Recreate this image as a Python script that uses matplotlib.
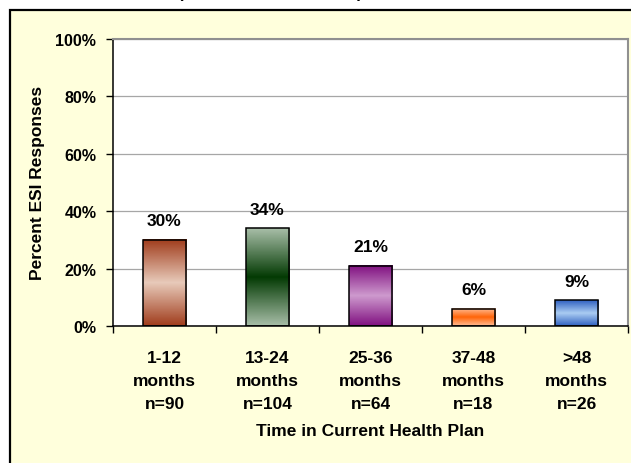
import numpy as np
import matplotlib.pyplot as plt
from matplotlib.colors import LinearSegmentedColormap
from matplotlib.patches import Rectangle

plt.rcParams['font.family'] = ['Liberation Sans', 'DejaVu Sans']
plt.rcParams['font.weight'] = 'bold'
plt.rcParams['axes.labelweight'] = 'bold'

# data
periods = ['1-12\nmonths', '13-24\nmonths', '25-36\nmonths', '37-48\nmonths', '>48\nmonths']
counts = [90, 104, 64, 18, 26]
percents = [30, 34, 21, 6, 9]

# (edge colour, middle colour) for each bar's vertical gradient
shades = [('#A03C1C', '#E8CABA'),
          ('#A8BEA8', '#033A03'),
          ('#801080', '#CE9ACE'),
          ('#FFBE98', '#FF6408'),
          ('#2F60C0', '#AACCF2')]

W, H = 631, 464
fig = plt.figure(figsize=(W / 100, H / 100), dpi=100, facecolor='white')

# pale yellow chart frame
frame = Rectangle((9.5 / W, -0.1), 1.2, (H - 10.5) / H + 0.1,
                  transform=fig.transFigure, facecolor='#FFFFDC',
                  edgecolor='black', linewidth=1.6, zorder=0)
fig.add_artist(frame)

# tails of the title line above the frame
fig.text(180 / W, 1 + 1.5 / H, '(', fontsize=12, va='baseline', ha='center')
fig.text(360 / W, 1 + 1.5 / H, ')', fontsize=12, va='baseline', ha='center')

ax = fig.add_axes([113 / W, 1 - 327 / H, (628 - 113) / W, (327 - 40) / H])
ax.set_facecolor('white')

x = np.arange(len(percents))
bw = 0.42
for xi, v, (edge, mid) in zip(x, percents, shades):
    cmap = LinearSegmentedColormap.from_list('g', [edge, mid, edge])
    grad = np.linspace(0, 1, 200).reshape(-1, 1)
    ax.imshow(grad, cmap=cmap, aspect='auto', origin='lower',
              extent=[xi - bw / 2, xi + bw / 2, 0, v], zorder=2)
ax.bar(x, percents, width=bw, facecolor='none', edgecolor='black',
       linewidth=1.1, zorder=3)

for xi, v in zip(x, percents):
    ax.text(xi, v + 4.0, f'{v}%', ha='center', va='bottom', fontsize=12.5)

ax.set_xlim(-0.5, len(percents) - 0.5)
ax.set_ylim(0, 100)

ax.set_yticks(np.arange(0, 101, 20))
ax.set_yticklabels([f'{t}%' for t in range(0, 101, 20)], fontsize=11.5)
ax.yaxis.grid(True, color='#A6A6A6', linewidth=0.9)
ax.set_axisbelow(True)

ax.set_xticks(x)
ax.set_xticklabels([f'{p}\nn={n}' for p, n in zip(periods, counts)],
                   fontsize=12.5, linespacing=1.7)
ax.set_xticks(np.arange(-0.5, len(percents)), minor=True)
ax.tick_params(axis='x', which='major', length=0, pad=17)
ax.tick_params(axis='x', which='minor', length=5, width=1, color='black')
ax.tick_params(axis='y', length=5, width=1, pad=7, color='black')

for side in ('top', 'right'):
    ax.spines[side].set_color('#909090')
    ax.spines[side].set_linewidth(1.5)
for side in ('left', 'bottom'):
    ax.spines[side].set_color('black')
    ax.spines[side].set_linewidth(1.1)

ax.set_xlabel('Time in Current Health Plan', fontsize=12.5, labelpad=8)
fig.text(38 / W, 1 - 183 / H, 'Percent ESI Responses', rotation=90,
         fontsize=12.5, ha='center', va='center')

fig.savefig('out.png', dpi=100)
